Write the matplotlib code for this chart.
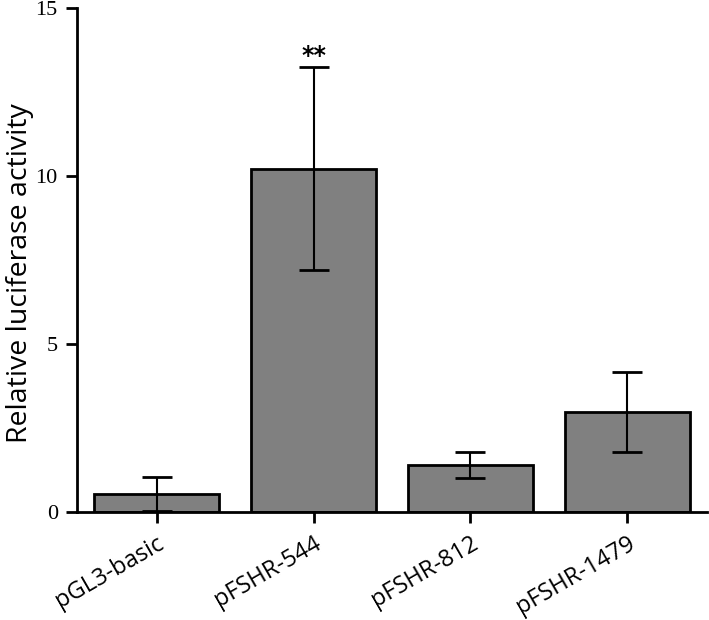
import matplotlib
matplotlib.use("Agg")
import matplotlib.pyplot as plt
import numpy as np

categories = ["pGL3-basic", "pFSHR-544", "pFSHR-812", "pFSHR-1479"]
means = [0.55, 10.23, 1.41, 2.98]
errors = [0.5, 3.02, 0.38, 1.19]
annotations = ["", "**", "", ""]
yticks = [0, 5, 10, 15]

fig = plt.figure(figsize=(7.09, 6.2), dpi=100)
ax = fig.add_axes([0.109, 0.1734, 0.8878, 0.8132])

x = np.arange(len(categories))
ax.bar(x, means, width=0.8, color="#808080", edgecolor="black", linewidth=2, zorder=2)
ax.errorbar(x, means, yerr=errors, fmt="none", ecolor="black", elinewidth=1.5,
            capsize=11, capthick=2, zorder=3)
for xi, m, e, a in zip(x, means, errors, annotations):
    if a:
        ax.text(xi, m + e - 0.02, a, ha="center", va="bottom", fontsize=17,
                fontweight="bold", family="DejaVu Sans")

ax.set_xlim(-0.505, 3.505)
ax.set_ylim(0, 15)
ax.set_yticks(yticks)
ax.set_yticklabels([str(t) for t in yticks], family="Liberation Serif", fontsize=16)
ax.set_xticks(x)
ax.set_xticklabels(categories, rotation=30, ha="right", rotation_mode="anchor",
                   family="Open Sans", fontsize=17)
ax.set_ylabel("Relative luciferase activity", family="Open Sans", fontsize=20.5)
ax.yaxis.set_label_coords(-0.068, 0.475)

for s in ["top", "right"]:
    ax.spines[s].set_visible(False)
for s in ["left", "bottom"]:
    ax.spines[s].set_linewidth(2)
ax.tick_params(axis="y", direction="out", length=8, width=2, pad=6)
ax.tick_params(axis="x", direction="out", length=8, width=2, pad=6)

fig.savefig("out.png", dpi=100)
